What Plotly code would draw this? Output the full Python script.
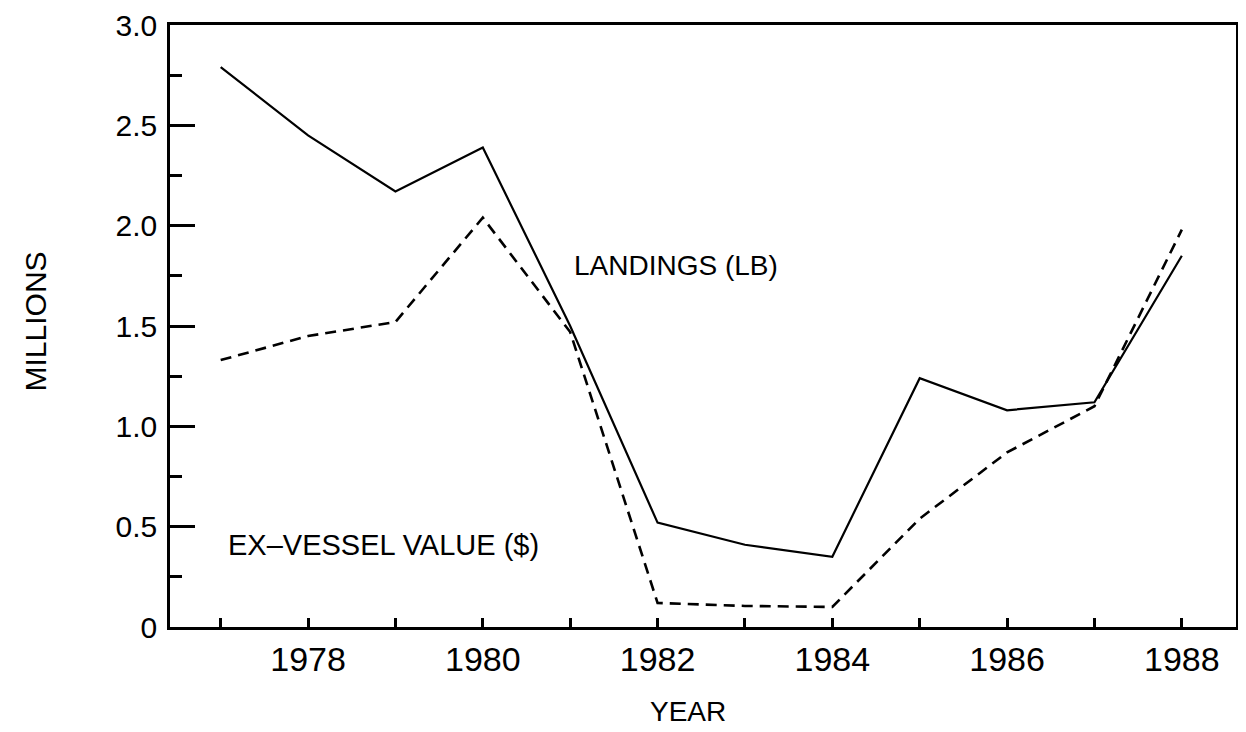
import plotly.graph_objects as go

years = [1977, 1978, 1979, 1980, 1981, 1982, 1983, 1984, 1985, 1986, 1987, 1988]
landings_lb = [2.79, 2.45, 2.17, 2.39, 1.50, 0.52, 0.41, 0.35, 1.24, 1.08, 1.12, 1.85]
exvessel_value = [1.33, 1.45, 1.52, 2.04, 1.47, 0.12, 0.105, 0.10, 0.54, 0.87, 1.10, 1.98]

x_tickvals = [1978, 1980, 1982, 1984, 1986, 1988]
x_ticktext = ["1978", "1980", "1982", "1984", "1986", "1988"]
y_tickvals = [0, 0.5, 1.0, 1.5, 2.0, 2.5, 3.0]
y_ticktext = ["0", "0.5", "1.0", "1.5", "2.0", "2.5", "3.0"]

FONT = "Liberation Sans, Arial, sans-serif"

fig = go.Figure()
fig.add_trace(go.Scatter(x=years, y=landings_lb, mode="lines",
                         line=dict(color="black", width=2.2),
                         name="LANDINGS (LB)", showlegend=False))
fig.add_trace(go.Scatter(x=years, y=exvessel_value, mode="lines",
                         line=dict(color="black", width=2.6, dash="11px,7px"),
                         name="EX-VESSEL VALUE ($)", showlegend=False))

fig.add_annotation(x=1981.02, y=1.80, xref="x", yref="y", text="LANDINGS (LB)",
                   showarrow=False, xanchor="left", yanchor="middle",
                   font=dict(family=FONT, size=28, color="black"))
fig.add_annotation(x=1977.06, y=0.41, xref="x", yref="y", text="EX\u2013VESSEL VALUE ($)",
                   showarrow=False, xanchor="left", yanchor="middle",
                   font=dict(family=FONT, size=29, color="black"))
fig.add_annotation(x=0.486, y=-0.141, xref="paper", yref="paper", text="YEAR",
                   showarrow=False, xanchor="center", yanchor="middle",
                   font=dict(family=FONT, size=28, color="black"))
fig.add_annotation(x=-0.126, y=0.507, xref="paper", yref="paper", text="MILLIONS",
                   showarrow=False, xanchor="center", yanchor="middle", textangle=-90,
                   font=dict(family=FONT, size=30, color="black"))

# page body has an 8px default margin, so the figure is sized/offset to compensate
fig.update_layout(
    width=1238, height=724,
    margin=dict(l=162, r=10, t=17, b=105, autoexpand=False),
    paper_bgcolor="white", plot_bgcolor="white",
    showlegend=False,
    xaxis=dict(range=[1976.42, 1988.62], tickvals=x_tickvals, ticktext=x_ticktext,
               ticks="inside", ticklen=9, tickwidth=2.5, tickcolor="black",
               minor=dict(dtick=1, tick0=1977, ticks="inside", ticklen=9, tickwidth=2.5, tickcolor="black"),
               showline=True, linecolor="black", linewidth=2.5, mirror=True,
               showgrid=False, zeroline=False, ticklabelstandoff=0, automargin=False,
               tickfont=dict(family=FONT, size=34, color="black")),
    yaxis=dict(range=[0, 3.0], tickvals=y_tickvals, ticktext=y_ticktext,
               ticks="inside", ticklen=25, tickwidth=2.5, tickcolor="black",
               minor=dict(dtick=0.25, tick0=0, ticks="inside", ticklen=12, tickwidth=2.5, tickcolor="black"),
               showline=True, linecolor="black", linewidth=2.5, mirror=True,
               showgrid=False, zeroline=False, ticklabelstandoff=4, automargin=False,
               tickfont=dict(family=FONT, size=30, color="black")),
)

fig.write_html("out.html")
